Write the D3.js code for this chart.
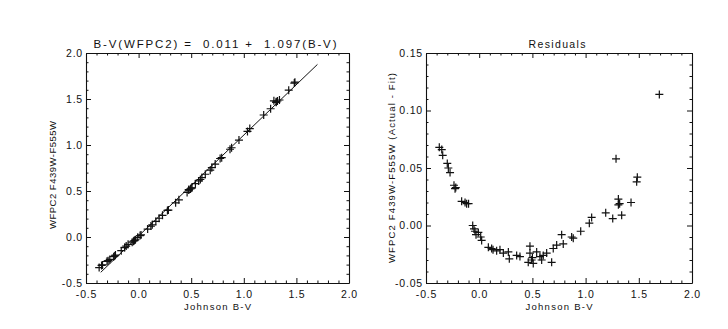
<!DOCTYPE html>
<html><head><meta charset="utf-8">
<script src="https://cdn.jsdelivr.net/npm/d3@7"></script>
<style>body{margin:0;background:#fff} text{font-family:"Liberation Sans",Arial,sans-serif;fill:#111;white-space:pre}</style>
</head><body>
<svg id="c" width="728" height="329"></svg>
<script>
// Johnson B-V of each star (shared by both panels)
const johnsonBV = [-0.375,-0.352,-0.343,-0.300,-0.290,-0.274,-0.237,-0.227,-0.220,-0.165,
  -0.133,-0.118,-0.100,-0.061,-0.049,-0.040,-0.030,-0.008,0.014,0.023,
  0.086,0.117,0.130,0.164,0.195,0.227,0.274,0.283,0.352,0.383,
  0.477,0.477,0.461,0.493,0.508,0.500,0.540,0.571,0.587,0.602,
  0.634,0.681,0.696,0.728,0.775,0.790,0.869,0.884,0.954,1.035,
  1.057,1.189,1.255,1.286,1.308,1.308,1.320,1.339,1.427,1.486,
  1.480,1.693];
// Residuals (Actual - Fit), right panel
const residual = [0.068,0.066,0.061,0.054,0.050,0.046,0.035,0.032,0.033,0.021,
  0.020,0.019,0.019,0.000,-0.003,-0.005,-0.008,-0.006,-0.010,-0.013,
  -0.019,-0.020,-0.021,-0.022,-0.021,-0.024,-0.023,-0.029,-0.026,-0.027,
  -0.018,-0.024,-0.032,-0.030,-0.033,-0.028,-0.023,-0.027,-0.030,-0.026,
  -0.024,-0.032,-0.020,-0.017,-0.008,-0.016,-0.010,-0.011,-0.005,0.002,
  0.007,0.011,0.006,0.058,0.023,0.018,0.019,0.009,0.020,0.042,
  0.038,0.114];
// WFPC2 F439W-F555W, left panel (points visible there)
const wfpc2BV = [-0.332,-0.309,-0.304,-0.264,-0.257,-0.244,-0.214,-0.206,-0.197,-0.149,
  -0.115,-0.099,-0.080,-0.056,-0.046,-0.038,-0.030,-0.004,0.016,0.023,
  0.086,0.119,0.133,0.169,0.204,0.236,0.289,0.293,0.371,0.404,
  0.516,0.510,0.485,0.522,0.535,0.532,0.580,0.610,0.625,0.645,
  0.682,0.726,0.754,0.793,0.853,0.862,0.954,0.970,1.053,1.148,
  1.178,1.326,1.394,1.480,1.469,1.464,1.478,1.489,1.596,1.683,
  1.673];
// Fit line end points
const fitBV = [-0.36, 1.70];
const fitWFPC2 = [-0.384, 1.876];

const xTicks = [-0.5, 0.0, 0.5, 1.0, 1.5, 2.0];
const xTickLabels = ["-0.5", "0.0", "0.5", "1.0", "1.5", "2.0"];
const leftYTicks = [-0.5, 0.0, 0.5, 1.0, 1.5, 2.0];
const leftYTickLabels = ["-0.5", "0.0", "0.5", "1.0", "1.5", "2.0"];
const rightYTicks = [-0.05, 0.00, 0.05, 0.10, 0.15];
const rightYTickLabels = ["-0.05", "0.00", "0.05", "0.10", "0.15"];

const svg = d3.select("#c");

function panel(opt) {
  const x = d3.scaleLinear().domain([-0.5, 2.0]).range([opt.x0, opt.x1]);
  const y = d3.scaleLinear().domain(opt.yDomain).range([opt.y1, opt.y0]);
  const g = svg.append("g");
  const majLen = 5, minLen = 2.5;
  const xMinor = d3.range(-5, 21).map(i => i / 10).filter(v => !xTicks.some(t => Math.abs(t - v) < 1e-9));
  const yMinor = d3.range(Math.round(opt.yDomain[0] / opt.yMinorStep), Math.round(opt.yDomain[1] / opt.yMinorStep) + 1)
      .map(i => i * opt.yMinorStep).filter(v => !opt.yTicks.some(t => Math.abs(t - v) < 1e-9));

  function styleAxis(sel) {
    sel.select(".domain").attr("stroke", "#111").attr("stroke-width", 1.1);
    sel.selectAll(".tick line").attr("stroke", "#111").attr("stroke-width", 1);
  }
  // bottom
  const bot = g.append("g").attr("transform", `translate(0,${opt.y1})`)
    .call(d3.axisBottom(x).tickValues(xTicks).tickSizeInner(-majLen).tickSizeOuter(0)
      .tickPadding(10).tickFormat((d, i) => xTickLabels[i]));
  styleAxis(bot);
  bot.selectAll(".tick text").attr("font-size", 10.5).attr("letter-spacing", "0.8px")
    .attr("font-family", "Liberation Sans").attr("fill", "#111").attr("y", 15).attr("dy", 0);
  g.append("g").attr("transform", `translate(0,${opt.y1})`)
    .call(d3.axisBottom(x).tickValues(xMinor).tickSizeInner(-minLen).tickSizeOuter(0).tickFormat(""))
    .call(s => { s.select(".domain").remove(); s.selectAll(".tick line").attr("stroke", "#111"); });
  // top
  const top = g.append("g").attr("transform", `translate(0,${opt.y0})`)
    .call(d3.axisTop(x).tickValues(xTicks).tickSizeInner(-majLen).tickSizeOuter(0).tickFormat(""));
  styleAxis(top);
  g.append("g").attr("transform", `translate(0,${opt.y0})`)
    .call(d3.axisTop(x).tickValues(xMinor).tickSizeInner(-minLen).tickSizeOuter(0).tickFormat(""))
    .call(s => { s.select(".domain").remove(); s.selectAll(".tick line").attr("stroke", "#111"); });
  // left
  const left = g.append("g").attr("transform", `translate(${opt.x0},0)`)
    .call(d3.axisLeft(y).tickValues(opt.yTicks).tickSizeInner(-majLen).tickSizeOuter(0)
      .tickPadding(8).tickFormat((d, i) => opt.yTickLabels[i]));
  styleAxis(left);
  left.selectAll(".tick text").attr("font-size", 10.5).attr("letter-spacing", "0.8px")
    .attr("font-family", "Liberation Sans").attr("fill", "#111").attr("x", -3);
  g.append("g").attr("transform", `translate(${opt.x0},0)`)
    .call(d3.axisLeft(y).tickValues(yMinor).tickSizeInner(-minLen).tickSizeOuter(0).tickFormat(""))
    .call(s => { s.select(".domain").remove(); s.selectAll(".tick line").attr("stroke", "#111"); });
  // right
  const right = g.append("g").attr("transform", `translate(${opt.x1},0)`)
    .call(d3.axisRight(y).tickValues(opt.yTicks).tickSizeInner(-majLen).tickSizeOuter(0).tickFormat(""));
  styleAxis(right);
  g.append("g").attr("transform", `translate(${opt.x1},0)`)
    .call(d3.axisRight(y).tickValues(yMinor).tickSizeInner(-minLen).tickSizeOuter(0).tickFormat(""))
    .call(s => { s.select(".domain").remove(); s.selectAll(".tick line").attr("stroke", "#111"); });

  // titles
  g.append("text").attr("x", opt.titleX).attr("y", 48).attr("text-anchor", "middle")
    .attr("xml:space", "preserve").style("white-space", "pre")
    .attr("font-size", opt.titleSize).attr("textLength", opt.titleLen).attr("lengthAdjust", "spacing")
    .text(opt.title);
  g.append("text").attr("x", (opt.x0 + opt.x1) / 2).attr("y", 310).attr("text-anchor", "middle")
    .attr("font-size", 9.5).attr("textLength", 67).attr("lengthAdjust", "spacing")
    .text("Johnson B-V");
  g.append("text").attr("transform", `translate(${opt.yTitleX},${opt.yTitleY}) rotate(-90)`)
    .attr("text-anchor", "middle").attr("font-size", 9.5)
    .attr("textLength", opt.yTitleLen).attr("lengthAdjust", "spacing")
    .text(opt.yTitle);

  // data
  const pts = opt.xs.map((v, i) => [x(v), y(opt.ys[i])]);
  const a = 4;
  g.append("g").selectAll("path").data(pts).join("path")
    .attr("d", p => `M${p[0] - a},${p[1]}H${p[0] + a}M${p[0]},${p[1] - a}V${p[1] + a}`)
    .attr("stroke", "#111").attr("stroke-width", 1.2).attr("fill", "none");
  return {x, y, g};
}

const L = panel({x0: 86, x1: 349, y0: 53, y1: 283, yDomain: [-0.5, 2.0], yTicks: leftYTicks,
  yTickLabels: leftYTickLabels, yMinorStep: 0.1,
  title: "B-V(WFPC2) =  0.011 +  1.097(B-V)", titleX: 215, titleSize: 11.5, titleLen: 243,
  yTitle: "WFPC2 F439W-F555W", yTitleX: 56, yTitleY: 175, yTitleLen: 108,
  xs: johnsonBV.slice(0, wfpc2BV.length), ys: wfpc2BV});
L.g.append("path").datum(fitBV.map((v, i) => [v, fitWFPC2[i]]))
  .attr("d", d3.line().x(d => L.x(d[0])).y(d => L.y(d[1])))
  .attr("stroke", "#111").attr("stroke-width", 1).attr("fill", "none");

panel({x0: 426, x1: 692, y0: 53, y1: 283, yDomain: [-0.05, 0.15], yTicks: rightYTicks,
  yTickLabels: rightYTickLabels, yMinorStep: 0.01,
  title: "Residuals", titleX: 557, titleSize: 10.5, titleLen: 57,
  yTitle: "WFPC2 F439W-F555W (Actual - Fit)", yTitleX: 395, yTitleY: 168, yTitleLen: 190,
  xs: johnsonBV, ys: residual});
</script>
</body></html>
